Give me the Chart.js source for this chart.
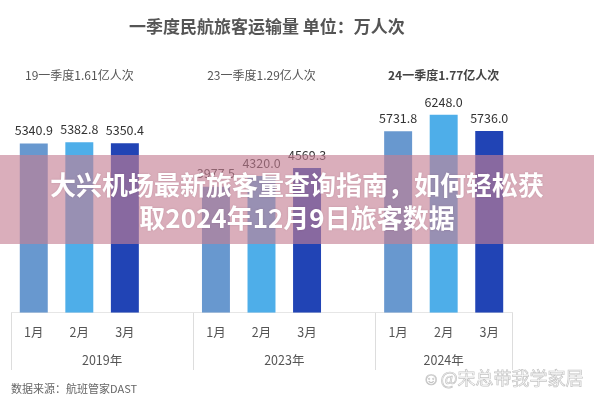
<!DOCTYPE html>
<html>
<head>
<meta charset="utf-8">
<script src="https://cdn.jsdelivr.net/npm/chart.js@4/dist/chart.umd.min.js"></script>
<style>
  html, body { margin: 0; padding: 0; background: #fff; }
  #wrap { position: relative; width: 594px; height: 400px; overflow: hidden; font-family: "Noto Sans CJK SC", "Noto Sans", sans-serif; }
  canvas { position: absolute; left: 0; top: 0; }
  #band { position: absolute; left: 0; top: 155px; width: 594px; height: 89px; background: rgba(196,127,148,0.63); }
  #bandText { position: absolute; left: 0; top: 167px; width: 594px; text-align: center; color: #fff; font-weight: 700; font-size: 26px; line-height: 33px; text-shadow: 0 0 2px rgba(120,60,80,0.25); }
  #wm { position: absolute; left: 422px; top: 364px; font-size: 18px; color: rgba(255,255,255,0.5); -webkit-text-stroke: 0.7px #c4c4c4; white-space: nowrap; }
</style>
</head>
<body>
<div id="wrap">
  <canvas id="c" width="594" height="400"></canvas>
  <div id="band"></div>
  <div id="bandText">大兴机场最新旅客量查询指南，如何轻松获<br>取2024年12月9日旅客数据</div>
  <div id="wm">☺@宋总带我学家居</div>
</div>
<script>
// ---- data ----
const categories = ['1月','2月','3月','','1月','2月','3月','','1月','2月','3月'];
const values = [5340.9, 5382.8, 5350.4, null, 3977.5, 4320.0, 4569.3, null, 5731.8, 6248.0, 5736.0];
const years = ['2019年','2023年','2024年'];
const groupSummaries = ['19一季度1.61亿人次','23一季度1.29亿人次','24一季度1.77亿人次'];
const monthColors = ['#6898cf', '#4eaee9', '#2144b5'];
const titleText = '一季度民航旅客运输量 单位：万人次';
const sourceText = '数据来源：航班管家DAST';

const FONT = '"Noto Sans CJK SC", "Noto Sans", sans-serif';
const groupStarts = [0, 4, 8];

const barColors = categories.map((c, i) => monthColors[i % 4] || 'transparent');

const decor = {
  id: 'decor',
  afterDatasetsDraw(chart) {
    const ctx = chart.ctx;
    const meta = chart.getDatasetMeta(0);
    ctx.save();
    ctx.font = '12.5px ' + FONT;
    ctx.fillStyle = '#333';
    ctx.textAlign = 'center';
    ctx.textBaseline = 'middle';
    meta.data.forEach((bar, i) => {
      const v = values[i];
      if (v == null) return;
      ctx.fillText(v.toFixed(1), bar.x, bar.y - 13);
    });
    ctx.restore();
  },
  afterDraw(chart) {
    const ctx = chart.ctx;
    const xs = chart.scales.x;
    const area = chart.chartArea;
    const slot = xs.getPixelForValue(1) - xs.getPixelForValue(0);
    ctx.save();
    // title
    ctx.font = 'bold 17px ' + FONT;
    ctx.fillStyle = '#555';
    ctx.textAlign = 'left';
    ctx.textBaseline = 'middle';
    ctx.fillText(titleText, 129, 27);
    // group summaries
    ctx.textAlign = 'center';
    groupSummaries.forEach((t, g) => {
      const x = xs.getPixelForValue(groupStarts[g] + 1);
      ctx.font = (g === 2 ? 'bold ' : '') + '12px ' + FONT;
      ctx.fillStyle = g === 2 ? '#444' : '#555';
      ctx.fillText(t, x, 75);
    });
    // separators
    ctx.strokeStyle = '#dddddd';
    ctx.lineWidth = 1;
    const bounds = [
      xs.getPixelForValue(0) - slot / 2,
      xs.getPixelForValue(4) - slot / 2,
      xs.getPixelForValue(8) - slot / 2,
      xs.getPixelForValue(10) + slot / 2
    ];
    bounds.forEach(b => {
      const bx = Math.round(b) + 0.5;
      ctx.beginPath();
      ctx.moveTo(bx, area.bottom);
      ctx.lineTo(bx, 370);
      ctx.stroke();
    });
    // year labels
    ctx.font = '12.5px ' + FONT;
    ctx.fillStyle = '#555';
    years.forEach((y, g) => {
      const x = (bounds[g] + bounds[g + 1]) / 2;
      ctx.fillText(y, x, 360);
    });
    // source
    ctx.textAlign = 'left';
    ctx.font = '11px ' + FONT;
    ctx.fillStyle = '#666';
    ctx.fillText(sourceText, 11, 389);
    ctx.restore();
  }
};

new Chart(document.getElementById('c'), {
  type: 'bar',
  data: {
    labels: categories,
    datasets: [{
      data: values,
      backgroundColor: barColors,
      borderWidth: 0,
      barPercentage: 0.614,
      categoryPercentage: 1.0
    }]
  },
  options: {
    responsive: false,
    animation: false,
    devicePixelRatio: 1,
    layout: { padding: { left: 11, right: 82, top: 91, bottom: 48.3 } },
    plugins: { legend: { display: false }, title: { display: false }, tooltip: { enabled: false } },
    scales: {
      x: {
        grid: { display: false, drawTicks: false },
        border: { display: true, color: '#e6e6e6' },
        ticks: { color: '#555', font: { family: FONT, size: 12.5 }, padding: 12, autoSkip: false, maxRotation: 0 }
      },
      y: { display: false, min: 0, max: 7000 }
    }
  },
  plugins: [decor]
});
</script>
</body>
</html>
